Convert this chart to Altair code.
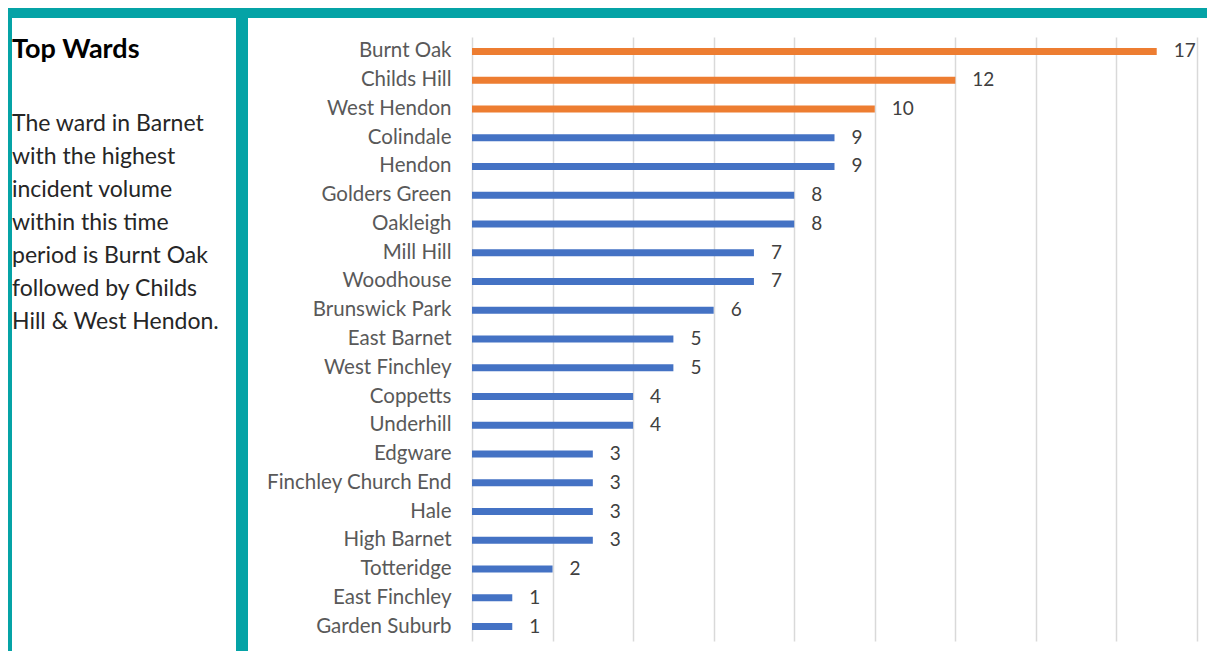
import altair as alt
import pandas as pd

wards = ["Burnt Oak", "Childs Hill", "West Hendon", "Colindale", "Hendon",
         "Golders Green", "Oakleigh", "Mill Hill", "Woodhouse", "Brunswick Park",
         "East Barnet", "West Finchley", "Coppetts", "Underhill", "Edgware",
         "Finchley Church End", "Hale", "High Barnet", "Totteridge",
         "East Finchley", "Garden Suburb"]
incidents = [17, 12, 10, 9, 9, 8, 8, 7, 7, 6, 5, 5, 4, 4, 3, 3, 3, 3, 2, 1, 1]
group = ["Top 3"] * 3 + ["Other"] * 18
x_ticks = [0, 2, 4, 6, 8, 10, 12, 14, 16, 18]

title_text = "Top Wards"
desc_lines = ["The ward in Barnet", "with the highest", "incident volume",
              "within this time", "period is Burnt Oak", "followed by Childs",
              "Hill & West Hendon."]

df = pd.DataFrame({"ward": wards, "n": incidents, "group": group})

FONT = "Lato"
TEAL = "#05A3A6"

y_enc = alt.Y("ward:N", sort=wards, title=None,
              axis=alt.Axis(labelFontSize=20.5, labelColor="#595959", labelFont=FONT,
                            labelLimit=400, labelPadding=21, ticks=False,
                            domain=False, grid=False))
x_enc = alt.X("n:Q", title=None, scale=alt.Scale(domain=[0, 18], nice=False),
              axis=alt.Axis(values=x_ticks, labels=False, ticks=False, domain=False,
                            grid=True, gridColor="#D9D9D9", gridWidth=1.5))

bars = alt.Chart(df).mark_bar(size=7).encode(
    x=x_enc, y=y_enc,
    color=alt.Color("group:N", scale=alt.Scale(domain=["Top 3", "Other"],
                                               range=["#ED7D31", "#4472C4"]),
                    legend=None),
)
labels = alt.Chart(df).mark_text(align="left", baseline="middle", dx=17,
                                 fontSize=19, font=FONT, color="#404040").encode(
    x="n:Q", y=alt.Y("ward:N", sort=wards), text="n:Q")

one = alt.Data(values=[{}])
def frame(x, x2, y, y2):
    return alt.Chart(one).mark_rect(color=TEAL).encode(
        x=alt.value(x), x2=alt.value(x2), y=alt.value(y), y2=alt.value(y2))

frames = [frame(-464, -460, -29, 620), frame(-236, -224, -29, 620),
          frame(-464, 740, -29, -19)]

title = alt.Chart(one).mark_text(text=title_text, align="left", baseline="alphabetic",
                                 fontSize=27, fontWeight="bold", font=FONT,
                                 color="#000000").encode(
    x=alt.value(-460), y=alt.value(21))
desc = alt.Chart(one).mark_text(text=desc_lines, align="left", baseline="alphabetic",
                                fontSize=23, font=FONT, lineHeight=33,
                                color="#262626").encode(
    x=alt.value(-460), y=alt.value(94))

chart = alt.layer(*frames, title, desc, bars, labels).properties(
    width=725, height=604,
    padding={"left": 464, "top": 29, "right": 10, "bottom": 10},
    autosize=alt.AutoSizeParams(type="none"),
).configure_view(stroke=None)

chart.save("out.html", embed_options={"renderer": "svg", "actions": False})
